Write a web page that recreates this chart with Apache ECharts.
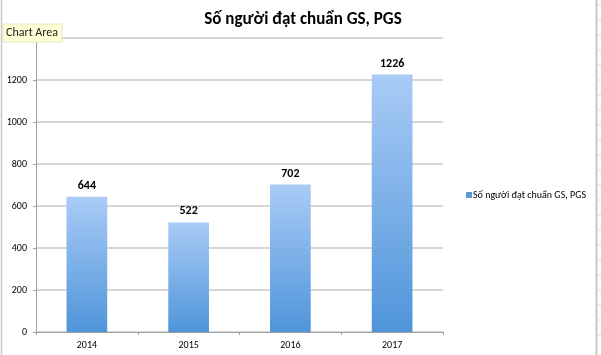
<!DOCTYPE html>
<html><head><meta charset="utf-8">
<script src="https://cdn.jsdelivr.net/npm/echarts@6/dist/echarts.min.js"></script>
<style>html,body{margin:0;padding:0;background:#fff}#c{width:601px;height:355px}</style>
</head><body><div id="c"></div>
<script>
var categories = ['2014', '2015', '2016', '2017'];
var values = [644, 522, 702, 1226];
var seriesName = 'Số người đạt chuẩn GS, PGS';
var yTicks = { min: 0, max: 1400, interval: 200 };

var chart = echarts.init(document.getElementById('c'));
var font = 'Calibri, Carlito, "Open Sans", "Liberation Sans", sans-serif';
var rightTicks = [];
for (var i = 0; i < 23; i++) {
  rightTicks.push({ type: 'line', shape: { x1: 598, y1: 5 + i * 15, x2: 601, y2: 5 + i * 15 }, style: { stroke: '#d8d8d8', lineWidth: 1 }, silent: true });
}
chart.setOption({
  animation: false,
  title: {
    text: seriesName, left: 298, textAlign: 'center', top: 6,
    textStyle: { fontFamily: font, fontSize: 17, fontWeight: 'bold', color: '#000' }
  },
  legend: {
    orient: 'vertical', left: 461, top: 185, itemWidth: 6, itemHeight: 6, itemGap: 4,
    icon: 'rect',
    textStyle: { fontFamily: font, fontSize: 10, color: '#000', padding: [0, 0, 0, -4] },
    data: [{ name: seriesName, itemStyle: { color: '#5b9bd5' } }]
  },
  grid: { left: 36, right: 158, top: 38, bottom: 23, containLabel: false },
  xAxis: {
    type: 'category', data: categories,
    axisLine: { lineStyle: { color: '#a0a0a0' } },
    axisTick: { show: true, alignWithLabel: false, length: 3, lineStyle: { color: '#a0a0a0' } },
    axisLabel: { fontFamily: font, fontSize: 10, color: '#000', margin: 8 }
  },
  yAxis: {
    type: 'value', min: yTicks.min, max: yTicks.max, interval: yTicks.interval,
    axisLine: { show: true, lineStyle: { color: '#a0a0a0' } },
    axisTick: { show: true, length: 3, lineStyle: { color: '#a0a0a0' } },
    axisLabel: { fontFamily: font, fontSize: 10, color: '#000', margin: 9, formatter: function (v) { return String(v); } },
    splitLine: { lineStyle: { color: '#c8c8c8', width: 1.5 } }
  },
  series: [{
    name: seriesName, type: 'bar', data: values, barWidth: '40%',
    itemStyle: {
      color: new echarts.graphic.LinearGradient(0, 0, 0, 1, [
        { offset: 0, color: '#a9cbf6' }, { offset: 1, color: '#4f95da' }
      ])
    },
    label: {
      show: true, position: 'top', distance: 5,
      fontFamily: font, fontSize: 12, fontWeight: 'bold', color: '#000'
    }
  }],
  graphic: [
    { type: 'line', shape: { x1: 1.5, y1: 0, x2: 1.5, y2: 355 }, style: { stroke: '#c8c8c8', lineWidth: 1.5 }, silent: true },
    { type: 'line', shape: { x1: 596.5, y1: 0, x2: 596.5, y2: 355 }, style: { stroke: '#c8c8c8', lineWidth: 2 }, silent: true },
    { type: 'rect', shape: { x: 3, y: 24, width: 59, height: 18 }, style: { fill: '#ffffd6', stroke: '#e4e4c0', lineWidth: 1 }, z: 100, silent: true },
    { type: 'text', x: 6, y: 27, style: { text: 'Chart Area', fontFamily: font, fontSize: 12, fill: '#222' }, z: 101, silent: true }
  ].concat(rightTicks)
});
</script></body></html>
